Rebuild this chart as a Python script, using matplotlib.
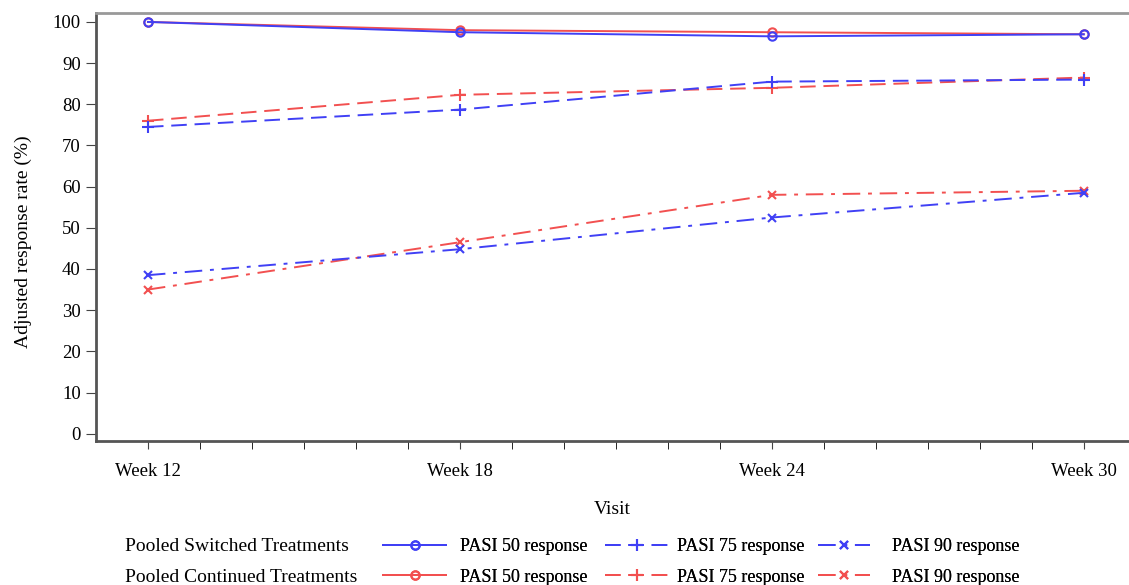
import matplotlib
matplotlib.use("Agg")
import matplotlib.pyplot as plt

plt.rcParams['font.family'] = ['Liberation Serif', 'DejaVu Serif']

weeks = [12, 18, 24, 30]
week_labels = ["Week 12", "Week 18", "Week 24", "Week 30"]

sw_pasi50 = [100.0, 97.5, 96.5, 97.0]
co_pasi50 = [100.0, 98.0, 97.5, 97.0]
sw_pasi75 = [74.5, 78.7, 85.5, 86.0]
co_pasi75 = [76.0, 82.3, 84.0, 86.5]
sw_pasi90 = [38.5, 44.8, 52.5, 58.5]
co_pasi90 = [35.0, 46.5, 58.0, 59.0]

group_labels = ["Pooled Switched Treatments", "Pooled Continued Treatments"]
series_labels = ["PASI 50 response", "PASI 75 response", "PASI 90 response"]

blue = "#4040f5"
red = "#f25050"

fig = plt.figure(figsize=(11.29, 5.85), dpi=100)
ax = fig.add_axes([0.085, 0.246, 0.915, 0.732])

styles = [
    dict(ls='-', marker='o', ms=6, mfc='none', mew=1.5),
    dict(ls=(0, (8, 4)), marker='+', ms=9, mew=1.5),
    dict(ls=(0, (9, 4, 2, 4)), marker='x', ms=6, mew=1.5),
]
sw = [sw_pasi50, sw_pasi75, sw_pasi90]
co = [co_pasi50, co_pasi75, co_pasi90]

handles_sw, handles_co = [], []
for i in range(3):
    h1, = ax.plot(weeks, co[i], color=red, lw=1.4, **styles[i])
    h0, = ax.plot(weeks, sw[i], color=blue, lw=1.4, **styles[i])
    handles_sw.append(h0)
    handles_co.append(h1)

ax.set_xlim(11.0, 30.87)
ax.set_ylim(-1.8, 102.2)
ax.set_xticks(weeks)
ax.set_xticklabels(week_labels)
ax.set_xticks(range(12, 31), minor=True)
ax.set_yticks(range(0, 101, 10))
ax.tick_params(axis='both', labelsize=13.5, color='#444444', direction='out')
ax.tick_params(axis='x', which='major', length=6, pad=10)
ax.tick_params(axis='x', which='minor', length=6)
ax.tick_params(axis='y', length=7, pad=4)

for s in ['left', 'bottom']:
    ax.spines[s].set_color('#555555')
    ax.spines[s].set_linewidth(2)
ax.spines['top'].set_color('#999999')
ax.spines['top'].set_linewidth(2)
ax.spines['right'].set_visible(False)

ax.set_xlabel("Visit", fontsize=14, labelpad=15)
ax.set_ylabel("Adjusted response rate (%)", fontsize=14)
ax.yaxis.set_label_coords(-0.062, 0.465)

# legend
y1 = 1 - 546.5 / 585
y2 = 1 - 577.5 / 585
fig.text(0.111, y1, group_labels[0], fontsize=14, va='center', ha='left')
fig.text(0.111, y2, group_labels[1], fontsize=14, va='center', ha='left')

x_starts = [383, 605, 818]
h_lens = [3.5, 3.5, 2.9]
pads = [0.75, 0.5, 1.2]
for i in range(3):
    leg = fig.legend([handles_sw[i], handles_co[i]], [series_labels[i]] * 2,
                     ncol=1, loc='center left',
                     bbox_to_anchor=(x_starts[i] / 1129, (y1 + y2) / 2),
                     frameon=False, fontsize=13, handlelength=h_lens[i],
                     handletextpad=pads[i], labelspacing=0.75,
                     borderpad=0, borderaxespad=0)
    fig.add_artist(leg)

fig.savefig("out.png", dpi=100)
